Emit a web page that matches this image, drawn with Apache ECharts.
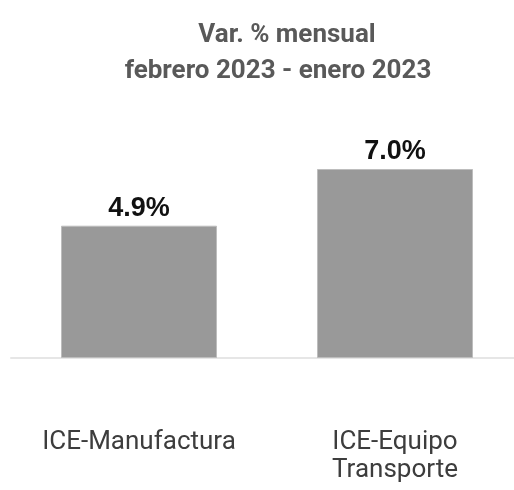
<!DOCTYPE html>
<html>
<head>
<meta charset="utf-8">
<script src="https://cdn.jsdelivr.net/npm/echarts@6/dist/echarts.min.js"></script>
<style>html,body{margin:0;padding:0;background:#fff}#c{width:514px;height:490px}</style>
</head>
<body>
<div id="c"></div>
<script>
var categories = ['ICE-Manufactura', 'ICE-Equipo\nTransporte'];
var values = [4.9, 7.0];
var titleLines = ['Var. % mensual', 'febrero 2023 - enero 2023'];

var titleStyle = {fontFamily: 'Roboto', fontWeight: 'bold', fontSize: 26, color: '#595959'};
var chart = echarts.init(document.getElementById('c'), null, {renderer: 'canvas'});
chart.setOption({
  animation: false,
  title: [
    {text: titleLines[0], left: 282, top: 17, textAlign: 'center', textStyle: titleStyle},
    {text: titleLines[1], left: 273, top: 53, textAlign: 'center', textStyle: titleStyle}
  ],
  grid: {left: 11, width: 512, top: 142, bottom: 132, containLabel: false, outerBoundsMode: 'none'},
  xAxis: {
    type: 'category',
    data: categories,
    axisLine: {show: true, lineStyle: {color: '#e6e6e6', width: 2}},
    axisTick: {show: false},
    axisLabel: {interval: 0, hideOverlap: false, margin: 70, fontFamily: 'Roboto', fontSize: 26, color: '#3d3d3d', lineHeight: 28}
  },
  yAxis: {
    type: 'value', min: 0, max: 8,
    show: false, splitLine: {show: false}
  },
  series: [{
    type: 'bar',
    data: values,
    barWidth: 156,
    itemStyle: {color: '#999999', borderColor: '#bdbdbd', borderWidth: 1},
    label: {
      show: true, position: 'top', distance: 4,
      formatter: function (p) { return p.value.toFixed(1) + '%'; },
      fontFamily: 'Liberation Sans', fontWeight: 'bold', fontSize: 27, color: '#111111'
    }
  }]
});
</script>
</body>
</html>
